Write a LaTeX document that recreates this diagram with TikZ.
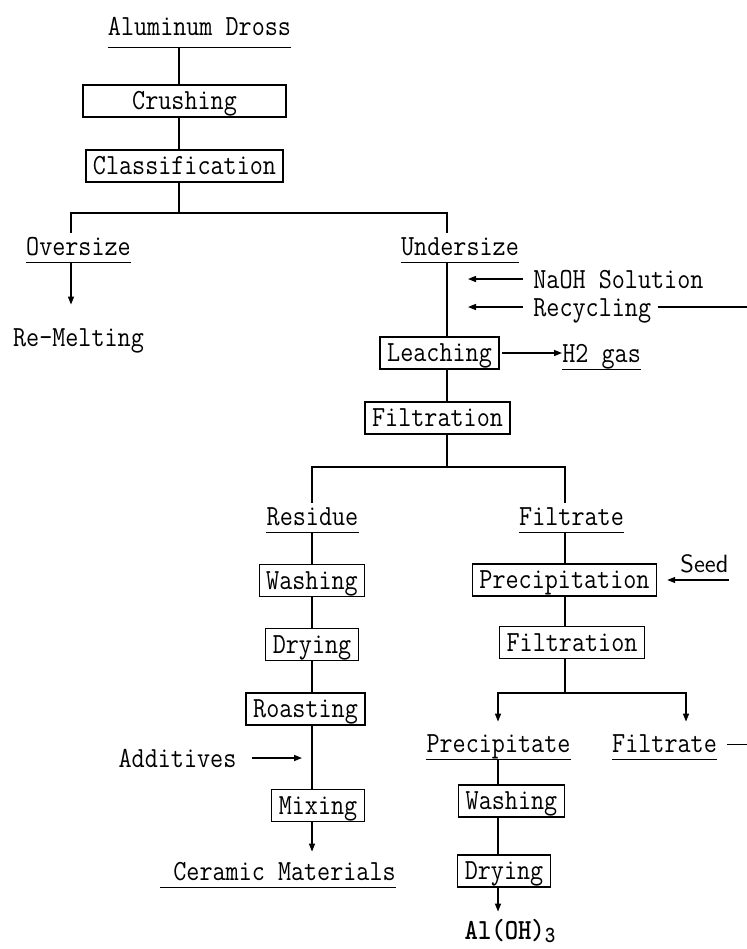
\documentclass[tikz,border=0pt]{standalone}
\usepackage{fontspec}
\setmonofont{lmmono12-regular.otf}[FakeStretch=0.87, BoldFont=lmmonolt10-bold.otf]
\usepackage{tikz}
\usetikzlibrary{arrows.meta}
\tikzset{
  pbox/.style={draw, line width=0.7pt, inner xsep=3.5pt, inner ysep=0pt, minimum height=16pt, text height=11.4pt, text depth=2.5pt},
  ulab/.style={anchor=base, inner xsep=0pt, inner ysep=2pt, text height=9pt, text depth=1.5pt},
  plab/.style={anchor=base, inner sep=0pt, text height=9pt, text depth=0pt},
  link/.style={line width=0.7pt},
  flow/.style={-{Triangle[length=4pt,width=3pt]}, line width=0.7pt},
}

\begin{document}
\begin{tikzpicture}[x=0.5pt, y=-0.5pt, font=\fontsize{14.6pt}{17pt}\selectfont\ttfamily]
  \useasboundingbox (0,0) rectangle (747,949);
  % labels
  \node[ulab, inner ysep=4.5pt] (dross) at (199.5,35) {Aluminum Dross};
  \node[ulab] (over)   at (78.5,255)  {Oversize};
  \node[plab] (remelt) at (78.5,346)  {Re-Melting};
  \node[ulab] (under)  at (460,255)   {Undersize};
  \node[plab, anchor=base west] (naoh)  at (533,288) {NaOH Solution};
  \node[plab, anchor=base west] (recyc) at (533,316) {Recycling};
  \node[ulab, anchor=base west] (h2)    at (562,362) {H2 gas};
  \node[ulab] (resid)  at (312.5,525) {Residue};
  \node[ulab] (filtr1) at (571.5,525) {Filtrate};
  \node[ulab] (precip) at (498.5,752) {Precipitate};
  \node[ulab] (filtr2) at (664.5,752) {Filtrate};
  \node[ulab] (ceramic) at (278,880)  {~Ceramic Materials};
  \node[plab] (adds)   at (177.5,767) {Additives};
  \node[plab, anchor=base west, font=\fontsize{12.5pt}{15pt}\selectfont\sffamily] (seed) at (680,572) {Seed};
  \node[plab, font=\fontsize{14.6pt}{17pt}\selectfont\ttfamily\bfseries] (alohs) at (510,939) {Al(OH)\raisebox{-1.5pt}{\fontsize{11.5pt}{12pt}\selectfont 3}};
  % process boxes
  \node[pbox, minimum width=101.5pt] (crush) at (184.5,101) {Crushing};
  \node[pbox] (classif) at (184.5,166) {Classification};
  \node[pbox] (leach)   at (439.5,353) {Leaching};
  \node[pbox] (filt1)   at (437.5,418) {Filtration};
  \node[pbox] (wash1)   at (312,580.5) {Washing};
  \node[pbox] (dry1)    at (312,644.5) {Drying~};
  \node[pbox] (roast)   at (305.5,709) {Roasting};
  \node[pbox] (mix)     at (318,805.5) {Mixing};
  \node[pbox] (precipn) at (564.5,580) {Precipitation};
  \node[pbox] (filt2)   at (572,642.5) {Filtration};
  \node[pbox] (wash2)   at (511.5,801) {Washing};
  \node[pbox] (dry2)    at (504,871)   {Drying};
  % branch points
  \coordinate (b1) at (179,213);  \coordinate (b1l) at (71,213);  \coordinate (b1r) at (447,213);
  \coordinate (b2) at (447,467);  \coordinate (b2l) at (312,467); \coordinate (b2r) at (565,467);
  \coordinate (b3) at (565,693);  \coordinate (b3l) at (498,693); \coordinate (b3r) at (686,693);
  \coordinate (feed) at (468,0);  \coordinate (addtip) at (302,0); \coordinate (rim) at (747,0);
  % main line
  \draw[link] (dross.south -| b1) -- (crush.north -| b1);
  \draw[link] (crush.south -| b1) -- (classif.north -| b1);
  \draw[link] (classif.south -| b1) -- (b1);
  \draw[link] (b1l |- over.north) -- (b1l) -- (b1r) -- (b1r |- under.north);
  \draw[flow, shorten >=11.5pt] (b1l |- over.south) -- (b1l |- remelt.north);
  \draw[link] (b1r |- under.south) -- (b1r |- leach.north);
  \draw[flow] ([xshift=-5pt]naoh.west) -- (naoh.west -| feed);
  \draw[flow] ([xshift=-5pt]recyc.west) -- (recyc.west -| feed);
  \draw[link] ([xshift=3pt]recyc.east) -- (recyc.east -| rim);
  \draw[flow] ([xshift=1pt]leach.east) -- (leach.east -| h2.west);
  \draw[link] (leach.south -| b2) -- (filt1.north -| b2);
  \draw[link] (filt1.south -| b2) -- (b2);
  \draw[link] (b2l |- resid.north) -- (b2l) -- (b2r) -- (b2r |- filtr1.north);
  % residue side
  \foreach \a/\b in {resid/wash1, wash1/dry1, dry1/roast, roast/mix}
    \draw[link] (\a.south -| b2l) -- (\b.north -| b2l);
  \draw[flow] ([xshift=7.5pt]adds.east) -- (adds.east -| addtip);
  \draw[flow, shorten >=3pt] (mix.south -| b2l) -- (ceramic.north -| b2l);
  % filtrate side
  \foreach \a/\b in {filtr1/precipn, precipn/filt2}
    \draw[link] (\a.south -| b2r) -- (\b.north -| b2r);
  \draw[flow] (seed.east |- precipn.east) -- ([xshift=5pt]precipn.east);
  \draw[link] (filt2.south -| b3) -- (b3);
  \draw[flow, shorten >=4pt] (b3) -- (b3l) -- (b3l |- precip.north);
  \draw[flow, shorten >=4pt] (b3) -- (b3r) -- (b3r |- filtr2.north);
  \draw[link] ([xshift=5pt]filtr2.east) -- (filtr2.east -| rim);
  \foreach \a/\b in {precip/wash2, wash2/dry2}
    \draw[link] (\a.south -| b3l) -- (\b.north -| b3l);
  \draw[flow, shorten >=4.5pt] (dry2.south -| b3l) -- (alohs.north -| b3l);
  % underlines
  \foreach \n in {dross,over,under,h2,resid,filtr1,precip,filtr2,ceramic}
    \draw[link] (\n.south west) -- (\n.south east);
\end{tikzpicture}
\end{document}
